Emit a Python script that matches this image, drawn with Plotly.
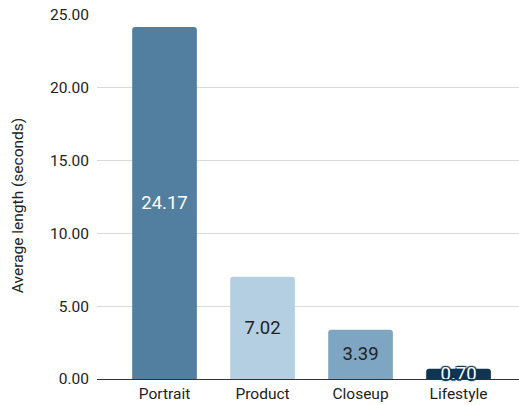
import plotly.graph_objects as go

categories = ["Portrait", "Product", "Closeup", "Lifestyle"]
values = [24.17, 7.02, 3.39, 0.70]
bar_colors = ["#527FA0", "#B5CFE2", "#7EA6C2", "#0F3550"]
label_colors = ["#FFFFFF", "#222222", "#222222", "#FFFFFF"]
outlined = [False, False, False, True]
y_title = "Average length (seconds)"

fig = go.Figure()
for cat, v, c, lc, ol in zip(categories, values, bar_colors, label_colors, outlined):
    tf = dict(family="Roboto", size=18.5, color=lc)
    if ol:
        tf["shadow"] = "1px 1px 1px #0F3550, -1px -1px 1px #0F3550, 1px -1px 1px #0F3550, -1px 1px 1px #0F3550"
    fig.add_trace(go.Bar(
        x=[cat], y=[v],
        marker=dict(color=c, line=dict(width=0)),
        width=0.66,
        text=[f"{v:.2f}"],
        textposition="inside",
        insidetextanchor="middle",
        constraintext="none",
        textangle=0,
        textfont=tf,
        cliponaxis=False,
    ))

fig.add_annotation(
    text=y_title, textangle=-90,
    xref="paper", yref="paper", x=-0.187, y=0.475,
    xanchor="center", yanchor="middle", showarrow=False,
    font=dict(family="Roboto", size=15.5, color="#222222"),
)

fig.update_layout(
    width=519, height=405,
    margin=dict(l=97, r=0, t=15, b=26),
    paper_bgcolor="white", plot_bgcolor="white",
    font=dict(family="Roboto", size=14, color="#222222"),
    showlegend=False,
    barmode="overlay",
    barcornerradius=3,
    xaxis=dict(range=[-0.689, 3.617], showgrid=False, showline=True, linecolor="#333333",
               linewidth=1, ticks="", tickfont=dict(size=15.5, color="#222222")),
    yaxis=dict(range=[0, 25], tickvals=[0, 5, 10, 15, 20, 25], tickformat=".2f",
               showgrid=True, gridcolor="#D9D9D9", gridwidth=1, zeroline=False,
               ticks="", ticklabelstandoff=7,
               tickfont=dict(size=15.5, color="#222222")),
)
fig.write_html("out.html")
